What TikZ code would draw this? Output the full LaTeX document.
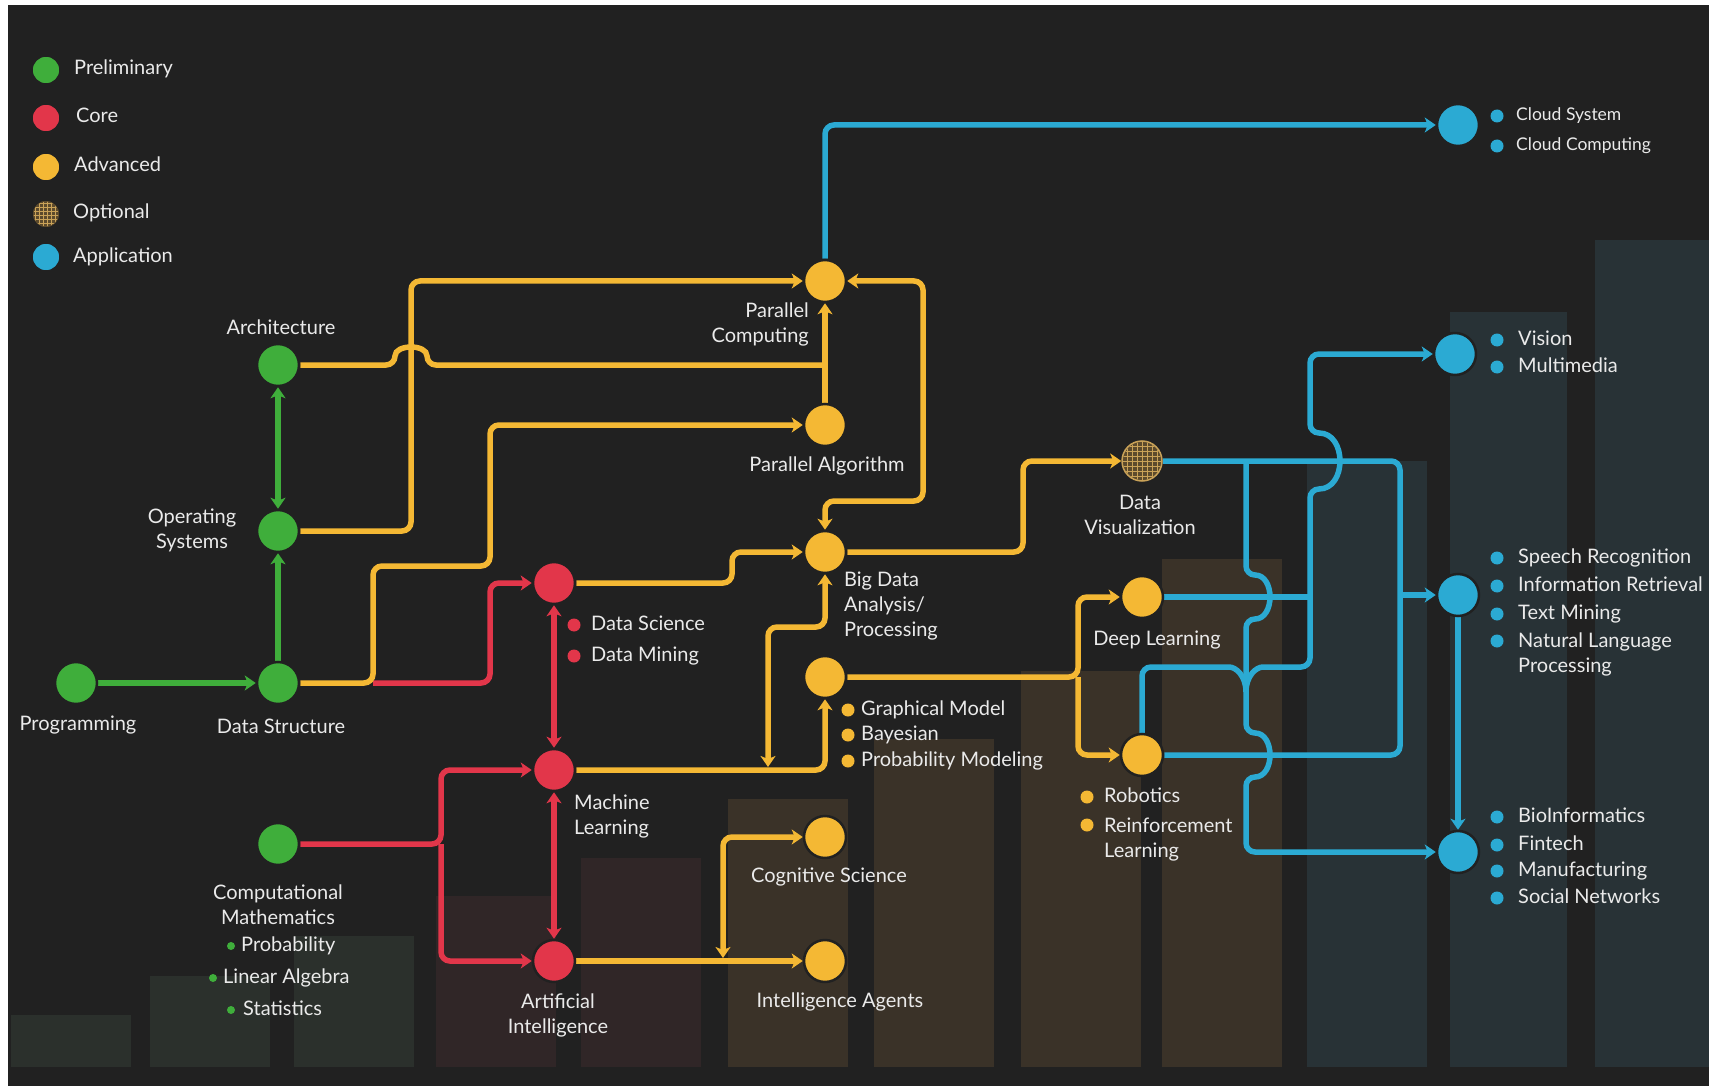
\documentclass[tikz,border=0pt]{standalone}
\usepackage{fontspec}
\setmainfont{Lato}
\usetikzlibrary{arrows.meta}
\definecolor{bgc}{HTML}{212121}
\definecolor{cg}{HTML}{3FAE3B}
\definecolor{cr}{HTML}{E2364A}
\definecolor{cy}{HTML}{F4B834}
\definecolor{cb}{HTML}{2BAAD3}
\definecolor{tx}{HTML}{EAEAEA}
\definecolor{barg}{HTML}{2B302C}
\definecolor{barr}{HTML}{302627}
\definecolor{bary}{HTML}{3A3228}
\definecolor{barb}{HTML}{283236}
\definecolor{hbg}{HTML}{5C4A2C}
\definecolor{hln}{HTML}{C9A258}
\pgfdeclarelayer{back}
\pgfdeclarelayer{lines}
\pgfsetlayers{back,lines,main}
\begin{document}
\begin{tikzpicture}[x=1pt,y=-1pt,
  >={Stealth[length=11pt,width=15pt,inset=3pt]},
  conn/.style={line width=5.5pt, rounded corners=9pt},
  dot/.style={circle, inner sep=0pt, minimum size=42pt, draw=bgc, line width=2.5pt},
  ldot/.style={circle, inner sep=0pt, minimum size=28pt, draw=bgc, line width=1.5pt},
  bul/.style={circle, inner sep=0pt, minimum size=13pt},
  sbul/.style={circle, inner sep=0pt, minimum size=8pt, fill=cg},
  lbl/.style={text=tx, inner sep=0pt, font=\fontsize{20}{25}\selectfont},
  itm/.style={lbl, anchor=west, text height=14pt, text depth=4pt},
  sitm/.style={itm, font=\fontsize{17.5}{21}\selectfont},
  hatch/.style={hln, line width=1pt}]
\useasboundingbox (0,0) rectangle (1709,1086);
\begin{pgfonlayer}{back}
\fill[white] (0,0) rectangle (1709,1086);
\fill[bgc] (8,5) rectangle (1709,1086);
% bars
\fill[barg] (11,1015) rectangle (131,1067);
\fill[barg] (150,976) rectangle (270,1067);
\fill[barg] (294,936) rectangle (414,1067);
\fill[barr] (436,896) rectangle (556,1067);
\fill[barr] (581,858) rectangle (701,1067);
\fill[bary] (728,799) rectangle (848,1067);
\fill[bary] (874,739) rectangle (994,1067);
\fill[bary] (1021,671) rectangle (1141,1067);
\fill[bary] (1162,559) rectangle (1282,1067);
\fill[barb] (1307,461) rectangle (1427,1067);
\fill[barb] (1450,312) rectangle (1567,1067);
\fill[barb] (1595,240) rectangle (1709,1067);
\end{pgfonlayer}

% ---------- legend
\node[ldot, fill=cg] (lg1) at (46,70) {};
\node[itm] (lt1) at (74,70) {Preliminary};
\node[ldot, fill=cr] (lg2) at (46,118) {};
\node[itm] (lt2) at (76,118) {Core};
\node[ldot, fill=cy] (lg3) at (46,167) {};
\node[itm] (lt3) at (74,167) {Advanced};
\node[ldot, fill=hbg] (lg4) at (46,214) {};
\begin{scope}
\clip (46,214) circle (12.5);
\foreach \i in {-15,-11,...,15} {
  \draw[hatch, line width=0.7pt] (46+\i,199) -- (46+\i,229);
  \draw[hatch, line width=0.7pt] (31,214+\i) -- (61,214+\i);
}
\end{scope}
\node[itm] (lt4) at (73,214) {Optional};
\node[ldot, fill=cb] (lg5) at (46,257) {};
\node[itm] (lt5) at (73,257) {Application};

% ---------- main nodes
\node[dot, fill=cg] (arch) at (278,365) {};
\node[dot, fill=cg] (os) at (278,531) {};
\node[dot, fill=cg] (ds) at (278,683) {};
\node[dot, fill=cg] (prog) at (76,683) {};
\node[dot, fill=cg] (cm) at (278,844) {};
\node[dot, fill=cr] (dsci) at (554,583) {};
\node[dot, fill=cr] (ml) at (554,770) {};
\node[dot, fill=cr] (ai) at (554,961) {};
\node[dot, fill=cy] (pc) at (825,281) {};
\node[dot, fill=cy] (pa) at (825,425) {};
\node[dot, fill=cy] (bd) at (825,552) {};
\node[dot, fill=cy] (gm) at (825,677) {};
\node[dot, fill=cy] (cs) at (825,837) {};
\node[dot, fill=cy] (ia) at (825,961) {};
\node[dot, fill=hbg, draw=hln, line width=1.5pt, minimum size=40pt] (dv) at (1142,461) {};
\begin{scope}
\clip (1142,461) circle (19);
\foreach \i in {-20,-15,...,20} {
  \draw[hatch] (1142+\i,440) -- (1142+\i,482);
  \draw[hatch] (1121,461+\i) -- (1163,461+\i);
}
\end{scope}
\node[dot, fill=cy] (dl) at (1142,597) {};
\node[dot, fill=cy] (rob) at (1142,755) {};
\node[dot, fill=cb] (cloud) at (1458,125) {};
\node[dot, fill=cb] (vis) at (1455,354) {};
\node[dot, fill=cb] (sp) at (1458,595) {};
\node[dot, fill=cb] (bio) at (1458,852) {};

% ---------- labels
\node[lbl] (tarch) at (281,327) {Architecture};
\node[lbl, align=center] (tos) at (192,530) {Operating\\Systems};
\node[lbl] (tprog) at (78,725) {Programming};
\node[lbl] (tds) at (281,726) {Data Structure};
\node[lbl, align=center] (tcm) at (278,905) {Computational\\Mathematics};
\node[sbul] (gb1) at (231,946) {};
\node[itm] (gt1) at (241,946) {Probability};
\node[sbul] (gb2) at (213,978) {};
\node[itm] (gt2) at (223,978) {Linear Algebra};
\node[sbul] (gb3) at (231,1010) {};
\node[itm] (gt3) at (243,1010) {Statistics};

\node[bul, fill=cr] (rb1) at (574,625) {};
\node[itm] (rt1) at (591,625) {Data Science};
\node[bul, fill=cr] (rb2) at (574,656) {};
\node[itm] (rt2) at (591,656) {Data Mining};
\node[lbl, align=left, anchor=west] (tml) at (574,816) {Machine\\Learning};
\node[lbl, align=center] (tai) at (558,1015) {Artificial\\Intelligence};

\node[lbl, align=right, anchor=east] (tpc) at (809,324) {Parallel\\Computing};
\node[lbl] (tpa) at (827,466) {Parallel Algorithm};
\node[lbl, align=left, anchor=west] (tbd) at (844,606) {Big Data\\Analysis/\\Processing};
\node[bul, fill=cy] (yb1) at (848,710) {};
\node[itm] (yt1) at (861,710) {Graphical Model};
\node[bul, fill=cy] (yb2) at (848,735) {};
\node[itm] (yt2) at (861,735) {Bayesian};
\node[bul, fill=cy] (yb3) at (848,761) {};
\node[itm] (yt3) at (861,761) {Probability Modeling};
\node[lbl] (tcs) at (829,877) {Cognitive Science};
\node[lbl] (tia) at (840,1002) {Intelligence Agents};

\node[lbl, align=center] (tdv) at (1140,515) {Data\\Visualization};
\node[lbl] (tdl) at (1157,640) {Deep Learning};
\node[bul, fill=cy] (yb4) at (1087,797) {};
\node[itm] (yt4) at (1104,797) {Robotics};
\node[bul, fill=cy] (yb5) at (1087,825) {};
\node[lbl, align=left, anchor=west] (yt5) at (1104,840) {Reinforcement\\Learning};

\node[bul, fill=cb] (cb1) at (1497,116) {};
\node[sitm] (ct1) at (1516,116) {Cloud System};
\node[bul, fill=cb] (cb2) at (1497,146) {};
\node[sitm] (ct2) at (1516,146) {Cloud Computing};
\node[bul, fill=cb] (vb1) at (1497,340) {};
\node[itm] (vt1) at (1518,340) {Vision};
\node[bul, fill=cb] (vb2) at (1497,367) {};
\node[itm] (vt2) at (1518,367) {Multimedia};
\node[bul, fill=cb] (sb1) at (1497,558) {};
\node[itm] (st1) at (1518,558) {Speech Recognition};
\node[bul, fill=cb] (sb2) at (1497,586) {};
\node[itm] (st2) at (1518,586) {Information Retrieval};
\node[bul, fill=cb] (sb3) at (1497,614) {};
\node[itm] (st3) at (1518,614) {Text Mining};
\node[bul, fill=cb] (sb4) at (1497,641) {};
\node[lbl, align=left, anchor=west] (st4) at (1518,654) {Natural Language\\Processing};
\node[bul, fill=cb] (bb1) at (1497,817) {};
\node[itm] (bt1) at (1518,817) {BioInformatics};
\node[bul, fill=cb] (bb2) at (1497,845) {};
\node[itm] (bt2) at (1518,845) {Fintech};
\node[bul, fill=cb] (bb3) at (1497,871) {};
\node[itm] (bt3) at (1518,871) {Manufacturing};
\node[bul, fill=cb] (bb4) at (1497,898) {};
\node[itm] (bt4) at (1518,898) {Social Networks};

% ---------- junction coordinates
\coordinate (jcs) at (723,958);
\coordinate (jml) at (768,767);
\coordinate (jds) at (373,683);
\coordinate (jcm) at (441,844);
\coordinate (jgm) at (1078,677);
\coordinate (jsp) at (1400,595);
\coordinate (jdv) at (1246,461);
\coordinate (jmg) at (1246,692);
\coordinate (jdl) at (1310,597);

\begin{pgfonlayer}{lines}
% green
\draw[conn, cg, ->] (prog) -- (ds);
\draw[conn, cg, ->] (ds) -- (os);
\draw[conn, cg, <->] (arch) -- (os);
% red
\draw[conn, cr, ->] (jds) -- (490,683) -- (490,583) -- (dsci);
\draw[conn, cr, <->] (dsci) -- (ml);
\draw[conn, cr, <->] (ml) -- (ai);
\draw[conn, cr, ->] (cm) -- (jcm) -- (441,770) -- (ml);
\draw[conn, cr, ->] (jcm) -- (441,961) -- (ai);
% yellow
\draw[conn, cy] (arch) -- (395,365) .. controls (395,344) and (427,344) .. (427,365) -- (825,365);
\draw[conn, cy, ->] (os) -- (411,531) -- (411,281) -- (pc);
\draw[conn, cy, ->] (ds) -- (jds) -- (373,566) -- (490,566) -- (490,425) -- (pa);
\draw[conn, cy, ->] (pa) -- (pc);
\draw[conn, cy, <->] (pc) -- (923,281) -- (923,501) -- (825,501) -- (bd);
\draw[conn, cy, ->] (dsci) -- (732,583) -- (732,552) -- (bd);
\draw[conn, cy, ->] (ml) -- (825,770) -- (gm);
\draw[conn, cy, <->] (jml) -- (768,627) -- (825,627) -- (bd);
\draw[conn, cy, ->] (bd) -- (1023,552) -- (1023,461) -- (dv);
\draw[conn, cy, ->] (gm) -- (jgm) -- (1078,597) -- (dl);
\draw[conn, cy, ->] (jgm) -- (1078,755) -- (rob);
\draw[conn, cy, ->] (ai) -- (ia);
\draw[conn, cy, <->] (jcs) -- (723,837) -- (cs);
% blue
\draw[conn, cb, ->] (pc) -- (825,125) -- (cloud);
\draw[conn, cb] (dv) -- (1400,461) -- (1400,755) -- (rob);
\draw[conn, cb, ->] (jsp) -- (sp);
\draw[conn, cb, ->] (sp) -- (bio);
\draw[conn, cb, ->] (jdv) -- (1246,575) .. controls (1275,575) and (1275,619) .. (1246,619) -- (1246,733) .. controls (1275,733) and (1275,777) .. (1246,777) -- (1246,852) -- (bio);
\draw[conn, cb, ->] (jmg) .. controls (1246,676) and (1256,667) .. (1272,667) -- (1310,667) -- (1310,489) .. controls (1347,489) and (1347,433) .. (1310,433) -- (1310,354) -- (vis);
\draw[conn, cb] (rob) -- (1142,667) -- (1220,667) .. controls (1236,667) and (1246,676) .. (jmg);
\draw[conn, cb] (dl) -- (jdl);
\end{pgfonlayer}
\end{tikzpicture}
\end{document}
